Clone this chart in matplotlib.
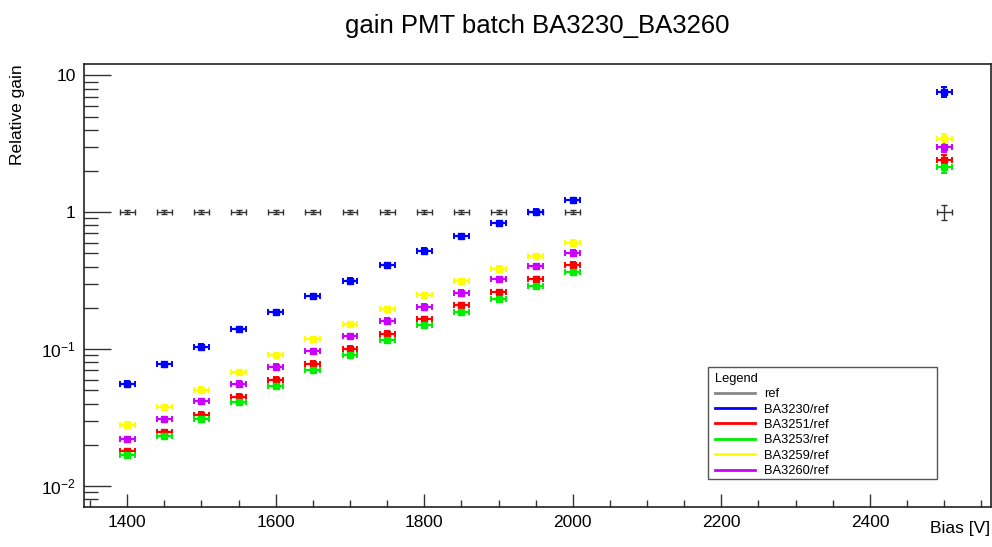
import matplotlib
matplotlib.use('Agg')
import matplotlib.pyplot as plt
from matplotlib.lines import Line2D
from matplotlib.patches import Rectangle
from matplotlib.ticker import FixedLocator, FixedFormatter, MultipleLocator, NullFormatter

plt.rcParams['font.family'] = ['Liberation Sans', 'DejaVu Sans']
plt.rcParams['mathtext.fontset'] = 'custom'
plt.rcParams['mathtext.rm'] = 'Liberation Sans'
plt.rcParams['mathtext.it'] = 'Liberation Sans'

# bias voltages
bias = [1400, 1450, 1500, 1550, 1600, 1650, 1700, 1750, 1800, 1850, 1900, 1950, 2000, 2500]

# relative gain per PMT
ref = [1.0, 1.0, 1.0, 1.0, 1.0, 1.0, 1.0, 1.0, 1.0, 1.0, 1.0, 1.0, 1.0, 1.0]
ba3230 = [0.0559, 0.0773, 0.104, 0.140, 0.186, 0.244, 0.317, 0.410, 0.523, 0.665, 0.831, 1.01, 1.22, 7.60]
ba3251 = [0.0180, 0.0247, 0.0332, 0.0449, 0.0598, 0.0782, 0.101, 0.130, 0.166, 0.210, 0.262, 0.324, 0.413, 2.41]
ba3253 = [0.0168, 0.0231, 0.0307, 0.0410, 0.0541, 0.0699, 0.0904, 0.116, 0.149, 0.186, 0.233, 0.290, 0.367, 2.13]
ba3259 = [0.0281, 0.0377, 0.0505, 0.0676, 0.0899, 0.118, 0.152, 0.195, 0.248, 0.312, 0.388, 0.477, 0.598, 3.41]
ba3260 = [0.0220, 0.0307, 0.0417, 0.0559, 0.0744, 0.0967, 0.125, 0.161, 0.204, 0.258, 0.323, 0.403, 0.508, 3.02]

# errors
bias_err = [10] * 14
rel_err = [0.04] * 13 + [0.09]
ref_rel_err = [0.03] * 13 + [0.12]

names = ['ref', 'BA3230/ref', 'BA3251/ref', 'BA3253/ref', 'BA3259/ref', 'BA3260/ref']
colors = ['#333333', '#0000ff', '#ff0000', '#00ee00', '#ffff00', '#cc00ff']
series = [ref, ba3230, ba3251, ba3253, ba3259, ba3260]

fig = plt.figure(figsize=(9.92, 5.47), dpi=100)
ax = fig.add_axes([84 / 992, 1 - 507 / 547, (991 - 84) / 992, (507 - 63.5) / 547])

for name, col, vals in zip(names, colors, series):
    errs = ref_rel_err if name == 'ref' else rel_err
    yerr = [v * e for v, e in zip(vals, errs)]
    if name == 'ref':
        ax.errorbar(bias, vals, xerr=bias_err, yerr=yerr, fmt='none', ecolor=col,
                    elinewidth=1, capsize=2.5, capthick=1)
    else:
        ax.errorbar(bias, vals, xerr=bias_err, yerr=yerr, fmt='s', color=col, ms=3.8,
                    mec=col, elinewidth=1.6, capsize=2.2, capthick=1.4)

ax.set_yscale('log')
ax.set_xlim(1342, 2563)
ax.set_ylim(0.00703, 12.2)

ax.xaxis.set_major_locator(MultipleLocator(200))
ax.xaxis.set_minor_locator(MultipleLocator(50))
ax.yaxis.set_major_locator(FixedLocator([0.01, 0.1, 1, 10]))
ax.yaxis.set_major_formatter(FixedFormatter([r'$10^{-2}$', r'$10^{-1}$', '1', '10']))
ax.yaxis.set_minor_formatter(NullFormatter())
ax.tick_params(axis='both', which='both', direction='in', labelsize=12.5, color='#333333')
ax.tick_params(axis='x', which='major', length=9.4, width=1, pad=6)
ax.tick_params(axis='x', which='minor', length=5, width=1)
ax.tick_params(axis='y', which='major', length=19.4, width=1, pad=6)
ax.tick_params(axis='y', which='minor', length=10, width=1)
for s in ax.spines.values():
    s.set_color('#222222')
    s.set_linewidth(1.2)

fig.suptitle('gain PMT batch BA3230_BA3260', x=537 / 992, y=1 - 26 / 547, va='center', fontsize=18.5)
fig.text(990 / 992, 1 - 528 / 547, 'Bias [V]', ha='right', va='center', fontsize=12.5)
fig.text(18 / 992, 1 - 64 / 547, 'Relative gain', ha='center', va='top', rotation=90, fontsize=12.5)

# legend box
fig.patches.append(Rectangle((708 / 992, 1 - 479 / 547), (937 - 708) / 992, (479 - 367) / 547,
                             transform=fig.transFigure, fill=True, facecolor='white',
                             edgecolor='#555555', linewidth=1, zorder=5))
handles = [Line2D([], [], color=c if n != 'ref' else '#888888', lw=2) for n, c in zip(names, colors)]
leg = fig.legend(handles, names, loc='upper left', bbox_to_anchor=(707 / 992, 1 - 365 / 547),
                 frameon=False, fontsize=9.3, title='Legend', title_fontsize=9.3,
                 alignment='left', handlelength=3.1, handletextpad=0.75,
                 labelspacing=0.26, borderpad=0.1)
leg.set_zorder(6)

fig.savefig('out.png', dpi=100)
